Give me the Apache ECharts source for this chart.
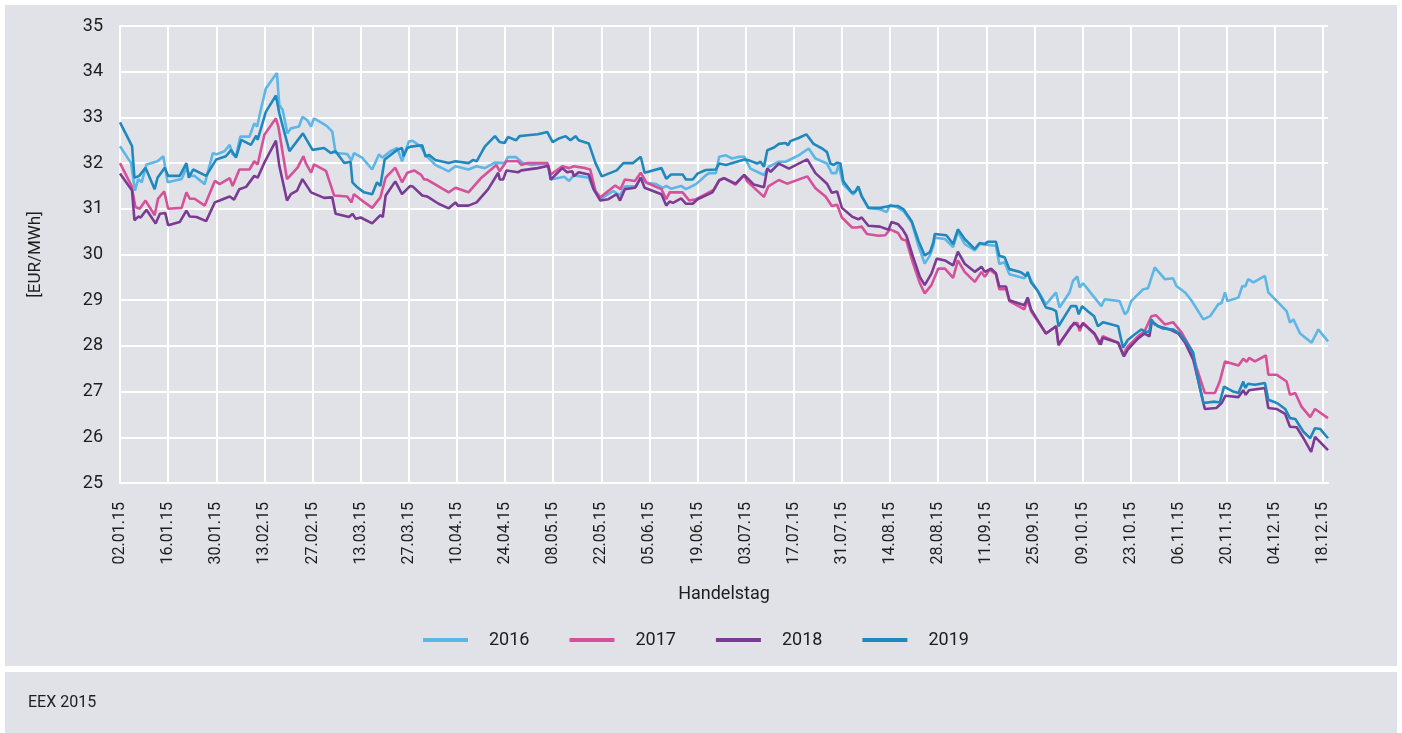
<!DOCTYPE html>
<html>
<head>
<meta charset="utf-8">
<script src="https://cdn.jsdelivr.net/npm/echarts@6.0.0/dist/echarts.min.js"></script>
<style>
  html, body { margin: 0; padding: 0; background: #fff; }
  #chart { width: 1402px; height: 733px; }
</style>
</head>
<body>
<div id="chart"></div>
<script>
// Terminpreise (Base) je Lieferjahr, Handelstage 2015 - x = Handelstag-Nr. ab 02.01.15
const tickLabels = ['02.01.15','16.01.15','30.01.15','13.02.15','27.02.15','13.03.15','27.03.15','10.04.15',
  '24.04.15','08.05.15','22.05.15','05.06.15','19.06.15','03.07.15','17.07.15','31.07.15','14.08.15',
  '28.08.15','11.09.15','25.09.15','09.10.15','23.10.15','06.11.15','20.11.15','04.12.15','18.12.15'];

const cal2016 = [[0,32.37],[2.3,32.0],[3.1,31.4],[3.8,31.65],[4.5,31.58],[5.5,31.97],[6.6,32.0],[7.8,32.04],[9,32.15],[9.9,31.58],[12.8,31.65],[13.8,31.9],[14.5,31.72],[15.5,31.72],[17.6,31.54],[19.3,32.22],[20,32.19],[21.7,32.26],[22.8,32.4],[23.4,32.19],[24.1,32.15],[25,32.58],[26.9,32.58],[27.9,32.87],[28.5,32.8],[29.3,33.19],[30.3,33.63],[31.7,33.84],[32.6,33.97],[33.1,33.27],[33.8,33.16],[34.8,32.65],[35.5,32.76],[37.2,32.8],[37.9,33.01],[38.9,32.94],[39.7,32.8],[40.3,32.98],[42.1,32.87],[43.1,32.8],[44.1,32.69],[44.8,32.22],[47.2,32.2],[48.1,32.06],[48.6,32.22],[50.3,32.12],[52.4,31.86],[53.8,32.19],[54.5,32.12],[56.2,32.26],[57.6,32.33],[58.6,32.04],[60,32.47],[60.8,32.49],[62.5,32.36],[63.5,32.18],[65.5,31.96],[68.3,31.82],[69.7,31.93],[72.4,31.86],[74.1,31.93],[75.8,31.89],[77.9,32.01],[79.9,32.0],[80.6,32.13],[82.3,32.13],[83.7,32.0],[85.4,31.96],[88.8,32.0],[89.5,31.64],[92.3,31.7],[93.3,31.61],[94.3,31.73],[95.7,31.71],[97.4,31.68],[98.4,31.43],[99.8,31.21],[102.5,31.39],[103.9,31.29],[104.9,31.49],[107.3,31.49],[108.2,31.68],[109.4,31.57],[111.4,31.54],[112.8,31.46],[113.5,31.5],[114.5,31.44],[116.6,31.5],[117.6,31.43],[119.7,31.54],[121.7,31.73],[122.4,31.78],[123.8,31.78],[124.5,32.14],[125.9,32.17],[127.2,32.1],[128.6,32.14],[129.7,32.14],[131,31.88],[133.8,31.74],[134.8,31.92],[136.9,32.03],[138.3,32.03],[139.7,32.1],[141,32.17],[143.1,32.32],[144.5,32.1],[146.9,31.99],[147.9,31.78],[148.8,31.78],[149.3,31.96],[150.3,31.53],[152.4,31.31],[153.4,31.47],[154.1,31.29],[155.5,31.02],[157.9,30.99],[159.3,30.93],[160,31.09],[161.7,31.02],[162.8,30.95],[164.5,30.7],[165.9,30.19],[167.2,29.8],[168.3,29.98],[169,30.19],[169.3,30.37],[171.4,30.34],[173.1,30.16],[174.1,30.5],[175.5,30.23],[177.6,30.09],[178.6,30.23],[180.3,30.21],[182,30.19],[182.7,29.79],[183.8,29.83],[184.8,29.57],[187.9,29.48],[188.6,29.57],[190,29.31],[191.4,29.09],[192.4,28.91],[194.5,29.17],[195.2,28.84],[197.3,29.17],[198,29.42],[198.9,29.52],[199.4,29.28],[200.1,29.37],[203.9,28.87],[204.6,29.02],[207.7,28.98],[208.8,28.69],[209.4,28.76],[210.1,28.98],[212.6,29.24],[213.6,29.26],[215,29.72],[217.1,29.46],[218.8,29.48],[219.5,29.31],[221.3,29.17],[222.6,29.0],[225.1,28.58],[226.5,28.65],[228.2,28.91],[228.9,28.94],[229.6,29.17],[230.1,28.98],[232.4,29.06],[233.2,29.31],[233.8,29.3],[234.4,29.46],[235.5,29.39],[237.9,29.53],[238.6,29.17],[242.4,28.76],[243.1,28.51],[243.8,28.58],[245.2,28.27],[247.6,28.07],[249,28.36],[251,28.1]];

const cal2017 = [[0,32.0],[2.4,31.5],[3.2,31.04],[4.1,31.0],[5.3,31.18],[7.2,30.86],[7.9,31.22],[9.2,31.38],[10,31.0],[12.8,31.02],[13.8,31.36],[14.5,31.22],[15.5,31.22],[17.6,31.07],[19.7,31.61],[20.7,31.54],[22.8,31.67],[23.4,31.5],[24.8,31.86],[26.9,31.86],[27.9,32.04],[28.6,31.97],[30,32.62],[32.4,32.98],[32.9,32.8],[34.7,31.65],[36.9,31.9],[38.1,32.15],[38.6,32.0],[39.7,31.79],[40.3,31.97],[42.8,31.83],[44.5,31.29],[47.2,31.27],[48.1,31.14],[48.6,31.32],[50.3,31.18],[52.4,31.02],[54.1,31.25],[55.2,31.68],[57.2,31.9],[58.6,31.58],[59.7,31.79],[61.1,31.84],[62.5,31.75],[63.2,31.64],[63.8,31.64],[68.3,31.36],[69.7,31.46],[72.4,31.36],[75.1,31.68],[78.2,31.96],[78.9,31.82],[80.3,32.04],[82.7,32.04],[83.4,31.96],[84.7,32.0],[88.8,32.0],[89.5,31.75],[91.9,31.93],[93.3,31.89],[94.3,31.93],[96.7,31.89],[97.7,31.86],[98.8,31.39],[99.8,31.25],[102.9,31.51],[104,31.43],[104.9,31.64],[107,31.61],[108.2,31.79],[109.4,31.57],[112.5,31.43],[113.5,31.21],[114.2,31.36],[116.9,31.36],[118.3,31.18],[119.7,31.21],[121.7,31.32],[123.4,31.42],[124.5,31.63],[125.5,31.67],[127.9,31.53],[129.7,31.74],[130.3,31.6],[133.8,31.26],[134.7,31.49],[136.9,31.63],[138.6,31.55],[142.8,31.71],[144.5,31.45],[146.6,31.27],[147.9,31.06],[149,31.09],[150,30.81],[152.1,30.59],[153.1,30.59],[154.1,30.61],[155.2,30.45],[157.6,30.41],[159,30.42],[160,30.55],[161.7,30.47],[162.4,30.34],[163.4,30.3],[164.8,29.8],[166.2,29.37],[167.2,29.15],[168.6,29.33],[170,29.69],[171.4,29.69],[173.1,29.49],[174.1,29.87],[175.5,29.62],[177.6,29.4],[179,29.62],[179.7,29.51],[180.7,29.67],[182,29.57],[182.7,29.24],[184.1,29.24],[184.8,28.98],[187.9,28.8],[188.6,29.02],[189.3,28.76],[192.4,28.27],[194.5,28.43],[195,28.01],[197.6,28.43],[198.9,28.51],[199.4,28.32],[200.1,28.51],[202.5,28.25],[203.5,28.03],[204.2,28.21],[207.4,28.07],[208.4,27.81],[209.4,27.99],[211.5,28.21],[212.9,28.32],[214.3,28.65],[215.3,28.67],[217.1,28.47],[218.8,28.52],[220.6,28.29],[222.6,27.92],[223.7,27.52],[225.4,26.97],[227.5,26.97],[228.5,27.22],[229.6,27.66],[232.4,27.57],[233.4,27.72],[234.1,27.65],[234.6,27.74],[235.8,27.66],[238.1,27.79],[238.6,27.37],[240.3,27.37],[242.4,27.22],[243.1,26.93],[244.2,26.97],[245.5,26.67],[247.3,26.44],[248.3,26.62],[251,26.42]];

const cal2018 = [[0,31.77],[2.5,31.4],[3,30.75],[3.8,30.83],[4.3,30.81],[5.5,30.98],[7.4,30.68],[8.3,30.89],[9.4,30.91],[10,30.64],[12.4,30.71],[13.8,30.96],[14.5,30.83],[15.9,30.82],[17.9,30.73],[19.7,31.14],[20.7,31.18],[22.8,31.27],[23.7,31.2],[24.8,31.43],[26.2,31.48],[27.9,31.72],[28.6,31.68],[30,32.01],[32.4,32.49],[33.1,31.94],[34.7,31.18],[35.5,31.32],[36.8,31.4],[37.9,31.65],[39.7,31.36],[42.4,31.24],[44.1,31.25],[44.8,30.89],[47.6,30.82],[48.3,30.89],[49,30.78],[50,30.81],[52.4,30.68],[54.1,30.86],[54.6,30.82],[55.2,31.29],[57.2,31.6],[58.6,31.32],[60.3,31.5],[60.8,31.49],[62.8,31.29],[63.8,31.27],[66.2,31.11],[68.3,31.01],[69.7,31.14],[70.2,31.07],[72.4,31.07],[74.1,31.14],[76.5,31.43],[78.6,31.79],[78.9,31.64],[79.6,31.64],[80.3,31.84],[82.7,31.8],[83.4,31.84],[86.8,31.89],[89,31.94],[89.5,31.64],[91.9,31.89],[92.9,31.8],[94,31.82],[94.3,31.71],[95.3,31.8],[97.4,31.75],[98.4,31.43],[99.8,31.18],[101.5,31.21],[103.2,31.32],[103.9,31.18],[104.9,31.43],[107,31.46],[108.2,31.68],[109,31.46],[112.5,31.32],[113.5,31.07],[114.2,31.16],[114.9,31.13],[116.6,31.23],[117.6,31.11],[119,31.11],[120,31.21],[123.1,31.36],[124.5,31.62],[125.5,31.67],[127.9,31.55],[129.7,31.74],[131.7,31.53],[133.8,31.47],[134.5,31.88],[135.2,31.81],[136.9,31.99],[139,31.88],[141,31.99],[142.8,32.08],[144.5,31.78],[146.9,31.55],[147.9,31.35],[149,31.38],[150,31.02],[152.1,30.83],[153.4,30.77],[154.1,30.81],[155.5,30.63],[157.9,30.61],[159.7,30.54],[160.3,30.71],[161.7,30.66],[162.6,30.55],[163.4,30.41],[164.8,29.94],[166.2,29.51],[167.2,29.33],[168.6,29.58],[169.7,29.91],[171.4,29.87],[173.1,29.76],[174.1,30.06],[175.5,29.8],[177.6,29.62],[179,29.73],[179.7,29.62],[181,29.69],[182,29.59],[182.7,29.3],[184.1,29.3],[184.8,29.0],[187.9,28.89],[188.6,29.06],[189.3,28.8],[192.4,28.27],[194.5,28.43],[195,28.03],[198.3,28.51],[199.4,28.4],[200.1,28.49],[202.5,28.27],[203.8,28.03],[204.2,28.18],[207.4,28.07],[208.6,27.77],[209.4,27.92],[211.5,28.16],[212.9,28.27],[213.9,28.21],[214.4,28.54],[215.7,28.43],[218.1,28.36],[219.9,28.27],[221.3,28.07],[223,27.7],[224,27.26],[225.4,26.62],[227.8,26.64],[228.9,26.75],[229.7,26.91],[232.4,26.88],[233.4,27.03],[233.9,26.93],[234.6,27.03],[237.9,27.08],[238.6,26.64],[240.3,26.62],[242.1,26.51],[243.1,26.23],[244.5,26.22],[245.9,25.98],[247.5,25.68],[248.3,26.01],[251,25.72]];

const cal2019 = [[0,32.89],[2.5,32.37],[3,31.68],[4,31.72],[5.3,31.9],[7.2,31.43],[7.8,31.68],[9.3,31.9],[10,31.72],[12.4,31.72],[13.8,32.0],[14.3,31.68],[15.2,31.86],[17.9,31.72],[20,32.08],[22,32.15],[23.1,32.29],[24.1,32.12],[25.2,32.51],[27.2,32.4],[28.3,32.6],[28.6,32.51],[30.3,33.12],[32.4,33.48],[33.1,33.09],[35.2,32.26],[38,32.65],[40,32.29],[42.4,32.33],[43.8,32.22],[44.8,32.26],[46.6,32.0],[47.9,32.03],[48.3,31.58],[49.3,31.47],[50.7,31.36],[52.4,31.32],[53.4,31.58],[54.1,31.5],[55,32.08],[57.6,32.29],[58.6,32.33],[58.9,32.15],[59.7,32.33],[60.4,32.36],[62.8,32.39],[63.5,32.14],[64.2,32.18],[65.5,32.07],[68.3,32.0],[69.7,32.04],[70,32.0],[72.4,32.0],[73.4,32.07],[74.1,32.04],[75.8,32.36],[77.9,32.59],[78.9,32.46],[79.9,32.44],[80.6,32.57],[82.3,32.5],[83,32.59],[84.7,32.61],[86.8,32.63],[88.8,32.68],[89.9,32.46],[91.2,32.54],[92.6,32.59],[93.6,32.5],[94.7,32.59],[95.3,32.5],[97.4,32.43],[98.8,32.0],[100.1,31.71],[103.2,31.84],[104.6,32.0],[106.6,32.0],[108.2,32.14],[109,31.79],[112.5,31.89],[113.5,31.66],[114.5,31.75],[116.9,31.75],[117.6,31.64],[119,31.64],[120,31.77],[121.7,31.85],[123.8,31.86],[124.5,31.99],[125.9,31.96],[129.7,32.08],[130.7,32.06],[132.4,31.99],[133.1,32.03],[133.8,31.92],[134.5,32.28],[135.9,32.34],[136.9,32.42],[138.3,32.44],[138.8,32.39],[139.3,32.48],[141,32.55],[142.6,32.63],[144.1,32.42],[145.9,32.32],[146.9,32.24],[147.6,31.99],[148.3,31.96],[149,32.01],[149.7,31.99],[150.3,31.6],[152.1,31.35],[152.8,31.38],[153.4,31.49],[154.1,31.27],[155.5,31.02],[157.9,31.02],[160,31.06],[160.3,31.09],[161.7,31.06],[162.8,30.99],[164.5,30.73],[165.9,30.3],[167.2,29.98],[168.3,30.05],[169,30.27],[169.3,30.45],[171.7,30.42],[173.1,30.23],[174.1,30.55],[175.5,30.34],[177.6,30.12],[178.6,30.25],[179.7,30.23],[180.3,30.28],[182,30.28],[182.7,29.97],[183.8,29.94],[184.8,29.68],[187.2,29.61],[188.3,29.53],[188.6,29.62],[189.3,29.39],[190.7,29.2],[192.4,28.84],[193.8,28.8],[194.5,28.76],[195,28.43],[197.6,28.87],[198.7,28.87],[199.2,28.69],[199.9,28.87],[201.1,28.76],[202.4,28.65],[203.2,28.43],[204.3,28.52],[207.4,28.43],[208.4,27.96],[209.4,28.13],[210.8,28.25],[212.2,28.36],[213.2,28.3],[213.9,28.32],[214.3,28.58],[215,28.47],[216.7,28.38],[218.8,28.36],[220.2,28.27],[221.9,28.03],[223,27.85],[223.7,27.41],[225.1,26.75],[227.5,26.78],[228.5,26.76],[229.4,27.11],[231.3,27.0],[232.4,26.97],[233.4,27.22],[233.8,27.08],[234.4,27.17],[235.8,27.15],[237.9,27.19],[238.6,26.82],[239.7,26.78],[240.7,26.73],[242.1,26.62],[243.1,26.42],[244.2,26.4],[245.9,26.12],[247.3,25.98],[248.3,26.2],[249.4,26.18],[251,25.98]];

const seriesNames = ['2016', '2017', '2018', '2019'];
const seriesData = [cal2016, cal2017, cal2018, cal2019];
const colors = ['#5cb6e6', '#d6509a', '#7b3a93', '#1f88bd'];

const FONT = 'Roboto, "Noto Sans", sans-serif';
const TEXT = '#1d1d1d';
const chart = echarts.init(document.getElementById('chart'));

chart.setOption({
    animation: false,
    backgroundColor: '#ffffff',
    graphic: [
        { type: 'rect', z: -10, shape: { x: 5, y: 5, width: 1392, height: 661 }, style: { fill: '#e1e2e7' } },
        { type: 'rect', z: -10, shape: { x: 5, y: 672, width: 1392, height: 61 }, style: { fill: '#e1e2e7' } },
        { type: 'text', left: 28, top: 695, style: { text: 'EEX 2015', fontSize: 16, fontFamily: FONT, fill: TEXT } }
    ],
    color: colors,
    legend: {
        data: seriesNames,
        left: 418,
        top: 626,
        icon: 'rect',
        itemWidth: 45,
        itemHeight: 4,
        itemGap: 40,
        textStyle: {
            fontSize: 18,
            fontFamily: FONT,
            color: TEXT,
            padding: [0, 0, 0, 16]
        }
    },
    grid: {
        left: 120,
        top: 26,
        width: 1208,
        height: 457
    },
    xAxis: {
        type: 'value',
        min: 0,
        max: 251,
        interval: 10,
        name: 'Handelstag',
        nameLocation: 'middle',
        nameGap: 102,
        nameTextStyle: { fontSize: 18, fontFamily: FONT, color: TEXT },
        axisLine: { show: true, lineStyle: { color: '#ffffff', width: 2 } },
        axisTick: { show: false },
        axisLabel: {
            rotate: 90,
            margin: 19,
            fontSize: 16,
            fontFamily: FONT,
            color: TEXT,
            showMaxLabel: false,
            formatter: v => (v % 10 === 0 && tickLabels[v / 10]) ? tickLabels[v / 10] : ''
        },
        splitLine: { show: true, showMaxLine: false, lineStyle: { color: '#ffffff', width: 2 } }
    },
    yAxis: {
        type: 'value',
        min: 25,
        max: 35,
        interval: 1,
        name: '[EUR/MWh]',
        nameLocation: 'middle',
        nameGap: 76,
        nameTextStyle: { fontSize: 17, fontFamily: FONT, color: TEXT },
        axisLine: { show: true, lineStyle: { color: '#ffffff', width: 2 } },
        axisTick: { show: false },
        axisLabel: { margin: 17, fontSize: 18, fontFamily: FONT, color: TEXT },
        splitLine: { lineStyle: { color: '#ffffff', width: 2 } }
    },
    series: seriesNames.map((name, i) => ({
        name: name,
        type: 'line',
        data: seriesData[i],
        showSymbol: false,
        symbol: 'none',
        lineStyle: { width: 2.6, color: colors[i] },
        itemStyle: { color: colors[i] }
    }))
});
</script>
</body>
</html>
